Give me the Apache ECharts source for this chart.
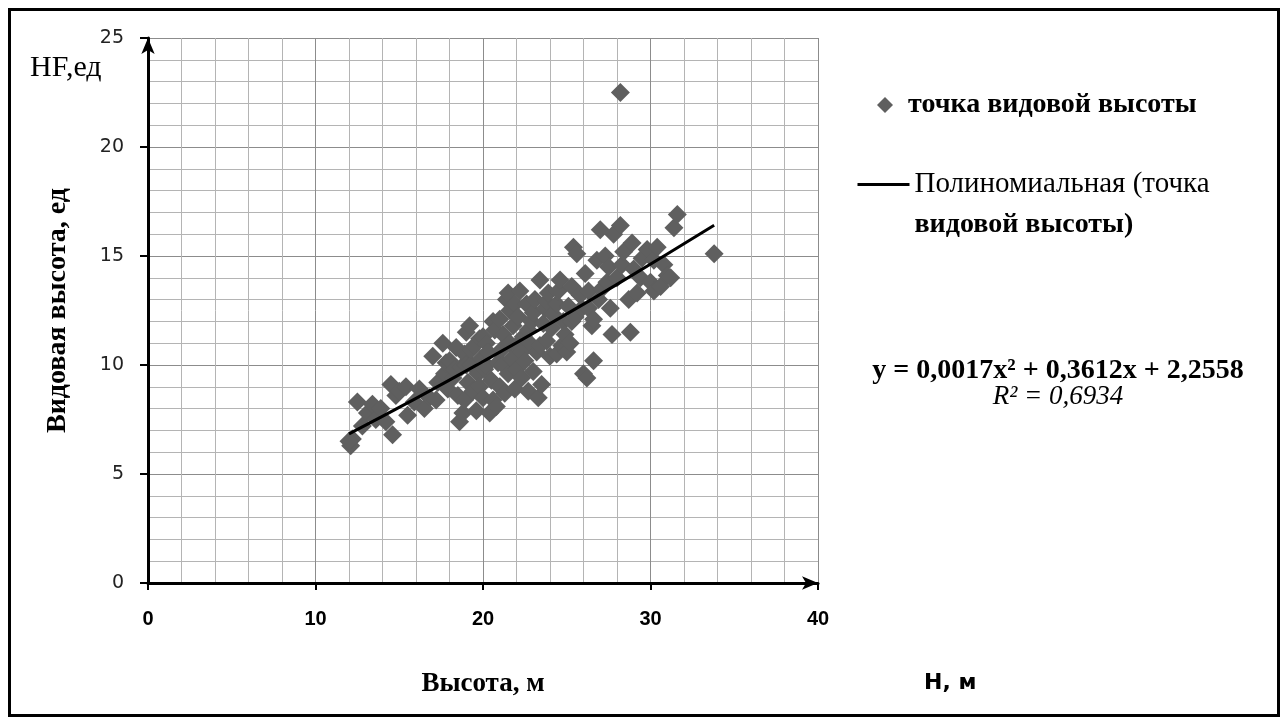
<!DOCTYPE html>
<html>
<head>
<meta charset="utf-8">
<script src="https://cdn.jsdelivr.net/npm/echarts@6/dist/echarts.min.js"></script>
<style>
  html, body { margin: 0; padding: 0; background: #fff; }
  #chart { width: 1283px; height: 720px; }
</style>
</head>
<body>
<div id="chart"></div>
<script>
// точки: [высота, видовая высота]
const points = [
  [12.1, 6.3], [12.2, 6.6], [12.0, 6.5], [12.5, 8.3], [12.8, 7.2], [13.1, 7.8], [13.4, 8.2],
  [13.6, 7.5], [13.9, 8.0], [14.2, 7.4], [14.5, 9.1], [14.6, 6.8], [14.8, 8.6], [15.0, 8.8],
  [15.4, 9.0], [15.5, 7.7], [15.9, 8.3], [16.2, 8.9], [16.5, 8.0], [16.8, 8.5], [17.0, 10.4],
  [17.2, 8.4], [17.3, 9.2], [17.6, 11.0], [17.7, 9.6], [17.9, 8.9], [17.8, 10.1],
  [18.0, 10.2], [18.2, 9.4], [18.3, 9.8], [18.4, 10.8], [18.5, 8.6], [18.6, 7.4], [18.7, 9.9],
  [18.8, 7.8], [18.9, 10.5], [18.9, 8.4], [19.0, 11.5], [19.0, 10.0], [19.1, 9.2], [19.2, 11.8],
  [19.3, 10.0], [19.3, 10.7], [19.4, 8.8], [19.5, 10.9], [19.6, 7.9], [19.7, 9.6], [19.8, 11.2],
  [19.8, 9.0], [19.9, 10.3], [20.0, 8.5], [20.0, 11.3], [20.1, 9.8], [20.2, 11.0], [20.2, 10.0],
  [20.3, 10.6], [20.4, 7.8], [20.5, 9.3], [20.6, 8.4], [20.6, 12.0], [20.7, 11.6], [20.8, 8.1],
  [20.9, 10.1], [21.0, 12.1], [21.0, 9.0], [21.1, 10.7], [21.2, 11.4], [21.2, 10.0], [21.3, 8.7],
  [21.4, 13.0], [21.5, 13.3], [21.5, 9.6], [21.6, 12.5], [21.6, 11.0], [21.7, 10.3], [21.8, 11.8],
  [21.9, 8.9], [21.9, 12.8], [22.0, 10.9], [22.0, 9.8], [22.1, 12.2], [22.2, 13.4], [22.3, 9.4],
  [22.3, 10.6], [22.4, 11.3], [22.5, 10.2], [22.6, 12.8], [22.7, 8.8], [22.7, 11.6], [22.8, 11.0],
  [22.9, 12.0], [23.0, 9.7], [23.0, 12.4], [23.1, 13.0], [23.2, 10.6], [23.3, 8.5], [23.4, 13.9],
  [23.4, 10.9], [23.5, 9.1], [23.6, 11.9], [23.7, 12.6], [23.8, 11.1], [23.8, 12.9], [23.9, 13.3],
  [24.0, 10.4], [24.1, 11.7], [24.2, 12.3], [24.4, 10.5], [24.4, 12.8], [24.5, 13.4], [24.6, 13.9],
  [24.7, 10.9], [24.8, 12.0], [24.9, 11.4],
  [25.0, 10.6], [25.1, 12.7], [25.2, 11.0], [25.3, 13.6], [25.3, 12.0], [25.4, 15.4], [25.5, 12.2],
  [25.6, 15.1], [25.8, 13.2], [25.9, 12.6], [26.0, 9.6], [26.1, 14.2], [26.2, 9.4], [26.3, 12.6],
  [26.3, 13.4], [26.5, 11.8], [26.6, 10.2], [26.6, 12.1], [26.8, 14.8], [26.9, 13.0], [27.0, 16.2],
  [27.1, 13.5], [27.3, 15.0], [27.4, 13.8], [27.5, 14.5], [27.6, 12.6], [27.7, 11.4], [27.8, 16.0],
  [28.0, 14.0], [28.2, 16.4], [28.2, 22.5], [28.3, 14.6], [28.4, 15.2], [28.7, 13.0], [28.8, 11.5],
  [28.9, 15.6], [29.0, 14.4], [29.2, 13.3], [29.4, 14.0], [29.5, 14.9], [29.8, 15.3], [30.0, 13.8],
  [30.2, 13.4], [30.2, 14.8], [30.4, 15.4], [30.6, 13.6], [30.8, 14.6], [31.0, 14.1], [31.2, 14.0],
  [31.4, 16.3], [31.6, 16.9], [33.8, 15.1]
]

// линия тренда, значения
const trendPoints = [[12, 6.84], [16, 8.47], [20, 10.16], [24, 11.9], [28, 13.7], [33.8, 16.41]]

const xTicks = [0, 10, 20, 30, 40]
const yTicks = [0, 5, 10, 15, 20, 25]

const scatterName = 'точка видовой высоты'
const trendName = 'Полиномиальная (точка видовой высоты)'

const serif = '"Liberation Serif", "Times New Roman", serif'

const chart = echarts.init(document.getElementById('chart'))

chart.setOption({
  backgroundColor: '#fff',
  animation: false,
  grid: {
    left: 148,
    top: 38,
    right: 465,
    bottom: 137
  },
  legend: [{
    data: [{ name: scatterName, icon: 'diamond' }],
    left: 872,
    top: 86,
    itemWidth: 16,
    itemHeight: 16,
    itemGap: 14,
    textStyle: {
      fontFamily: serif,
      fontWeight: 'bold',
      fontSize: 28,
      color: '#000',
      padding: [0, 0, 0, 10]
    }
  }, {
    data: [{ name: trendName }],
    left: 851,
    top: 165,
    itemWidth: 52,
    itemHeight: 22,
    itemGap: 2,
    itemStyle: { opacity: 0 },
    lineStyle: { color: '#000', width: 3 },
    formatter: () => '{a|Полиномиальная (точка}\n{b|видовой высоты)}',
    textStyle: {
      padding: [40, 0, 0, 0],
      rich: {
        a: { fontFamily: serif, fontSize: 29, color: '#000', lineHeight: 40 },
        b: { fontFamily: serif, fontSize: 28, fontWeight: 'bold', color: '#000', lineHeight: 40 }
      }
    }
  }],
  xAxis: {
    type: 'value',
    min: 0,
    max: 40,
    interval: 10,
    name: 'Высота, м',
    nameLocation: 'middle',
    nameGap: 88,
    nameTextStyle: { fontFamily: serif, fontWeight: 'bold', fontSize: 27, color: '#000' },
    axisLine: {
      show: true,
      onZero: false,
      symbol: ['none', 'arrow'],
      symbolSize: [10, 16],
      lineStyle: { color: '#000', width: 3 }
    },
    axisTick: { show: true, inside: false, length: 7, lineStyle: { color: '#000', width: 2 } },
    axisLabel: {
      margin: 26,
      fontFamily: '"Liberation Sans", Arial, sans-serif',
      fontWeight: 'bold',
      fontSize: 20,
      color: '#000',
      customValues: xTicks
    },
    splitLine: { show: true, lineStyle: { color: '#8c8c8c', width: 1 } },
    minorTick: { show: false, splitNumber: 5 },
    minorSplitLine: { show: true, lineStyle: { color: '#b4b4b4', width: 1 } }
  },
  yAxis: {
    type: 'value',
    min: 0,
    max: 25,
    interval: 5,
    name: 'Видовая высота, ед',
    nameLocation: 'middle',
    nameGap: 76,
    nameTextStyle: { fontFamily: serif, fontWeight: 'bold', fontSize: 28, color: '#000' },
    axisLine: {
      show: true,
      onZero: false,
      symbol: ['none', 'arrow'],
      symbolSize: [10, 16],
      lineStyle: { color: '#000', width: 3 }
    },
    axisTick: { show: true, inside: false, length: 8, lineStyle: { color: '#000', width: 2 } },
    axisLabel: {
      margin: 24,
      fontFamily: '"DejaVu Sans", Verdana, sans-serif',
      fontSize: 19,
      color: '#222',
      customValues: yTicks
    },
    splitLine: { show: true, lineStyle: { color: '#8c8c8c', width: 1 } },
    minorTick: { show: false, splitNumber: 5 },
    minorSplitLine: { show: true, lineStyle: { color: '#b4b4b4', width: 1 } }
  },
  graphic: [
    {
      type: 'rect',
      left: 7,
      top: 7,
      shape: { width: 1269, height: 706 },
      style: { fill: 'none', stroke: '#000', lineWidth: 3 },
      silent: true
    },
    {
      type: 'text',
      x: 30,
      y: 68,
      style: { text: 'HF,ед', font: '30px "Liberation Serif", serif', fill: '#000', verticalAlign: 'middle' }
    },
    {
      type: 'text',
      x: 924,
      y: 683,
      style: {
        text: 'Н, м',
        font: 'bold 22px "DejaVu Sans", sans-serif',
        fill: '#000',
        verticalAlign: 'middle'
      }
    },
    {
      type: 'text',
      x: 1058,
      y: 371,
      style: {
        text: 'y = 0,0017x² + 0,3612x + 2,2558',
        font: 'bold 28px "Liberation Serif", serif',
        fill: '#000',
        align: 'center',
        verticalAlign: 'middle'
      }
    },
    {
      type: 'text',
      x: 1058,
      y: 397,
      style: {
        text: 'R² = 0,6934',
        font: 'italic 27px "Liberation Serif", serif',
        fill: '#000',
        align: 'center',
        verticalAlign: 'middle'
      }
    }
  ],
  series: [
    {
      name: scatterName,
      type: 'scatter',
      symbol: 'diamond',
      symbolSize: 19,
      itemStyle: { color: '#5f5f5f', opacity: 1 },
      data: points,
      z: 2
    },
    {
      name: trendName,
      type: 'line',
      smooth: true,
      showSymbol: false,
      symbol: 'none',
      lineStyle: { color: '#000', width: 3 },
      data: trendPoints,
      z: 3
    }
  ]
})
</script>
</body>
</html>
